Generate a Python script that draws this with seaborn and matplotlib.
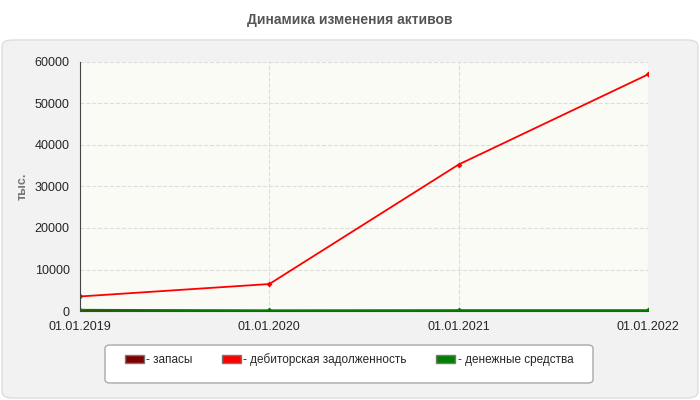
import numpy as np
import pandas as pd
import matplotlib
matplotlib.use("Agg")
import matplotlib.pyplot as plt
import seaborn as sns
from matplotlib.patches import FancyBboxPatch, Patch

dates = ["01.01.2019", "01.01.2020", "01.01.2021", "01.01.2022"]
zapasy = [100, 80, 80, 80]
debitor = [3500, 6500, 35300, 57000]
dengi = [300, 150, 200, 200]

sns.set_style("white")
plt.rcParams["font.family"] = ["Liberation Sans", "DejaVu Sans"]

df = pd.DataFrame({"x": range(len(dates)), "запасы": zapasy,
                   "дебиторская задолженность": debitor, "денежные средства": dengi})
long = df.melt("x", var_name="s", value_name="v")
colors = {"запасы": "#800000", "дебиторская задолженность": "#ff0000", "денежные средства": "#008000"}

fig = plt.figure(figsize=(7, 4), dpi=100)
fig.patch.set_facecolor("white")
bg = FancyBboxPatch((0.003, 0.005), 0.994, 0.895, boxstyle="round,pad=0,rounding_size=0.015",
                    transform=fig.transFigure, facecolor="#f2f2f2", edgecolor="#dddddd", lw=1, zorder=-10)
fig.patches.append(bg)
fig.text(0.5, 0.95, "Динамика изменения активов", ha="center", va="center", fontsize=10,
         fontweight="bold", color="#555555")

ax = fig.add_axes([80/700, 1-311/400, 568/700, 249/400])
ax.set_facecolor("#fbfbf6")
sns.lineplot(data=long, x="x", y="v", hue="s", palette=colors, marker="D", markersize=3,
             markeredgewidth=0, lw=1.3, legend=False, ax=ax)
ax.set_xlim(0, 3)
ax.set_ylim(0, 60000)
ax.set_xticks(range(4))
ax.set_xticklabels(dates, fontsize=9)
ax.set_yticks(range(0, 60001, 10000))
ax.tick_params(labelsize=9, length=4, color="#888888")
ax.grid(True, ls="--", color="#dddddd", lw=0.8)
ax.set_xlabel("")
ax.set_ylabel("тыс.", fontsize=9, fontweight="bold", color="#777777")
for s in ["top", "right"]:
    ax.spines[s].set_visible(False)
for s in ["left", "bottom"]:
    ax.spines[s].set_color("#444444")
    ax.spines[s].set_linewidth(0.8)

lb = FancyBboxPatch((105/700, 1-383/400), 488/700, 38/400, boxstyle="round,pad=0,rounding_size=0.008",
                    transform=fig.transFigure, facecolor="white", edgecolor="#aaaaaa", lw=1, zorder=-5)
fig.patches.append(lb)
handles = [Patch(facecolor=c, edgecolor="#777777", label="- " + k) for k, c in colors.items()]
fig.legend(handles=handles, loc="center", bbox_to_anchor=(349/700, 1-360/400), ncol=3, frameon=False,
           fontsize=8.5, handlelength=1.6, handleheight=0.7, handletextpad=0.2, columnspacing=2.5)
fig.savefig("out.png", dpi=100)
